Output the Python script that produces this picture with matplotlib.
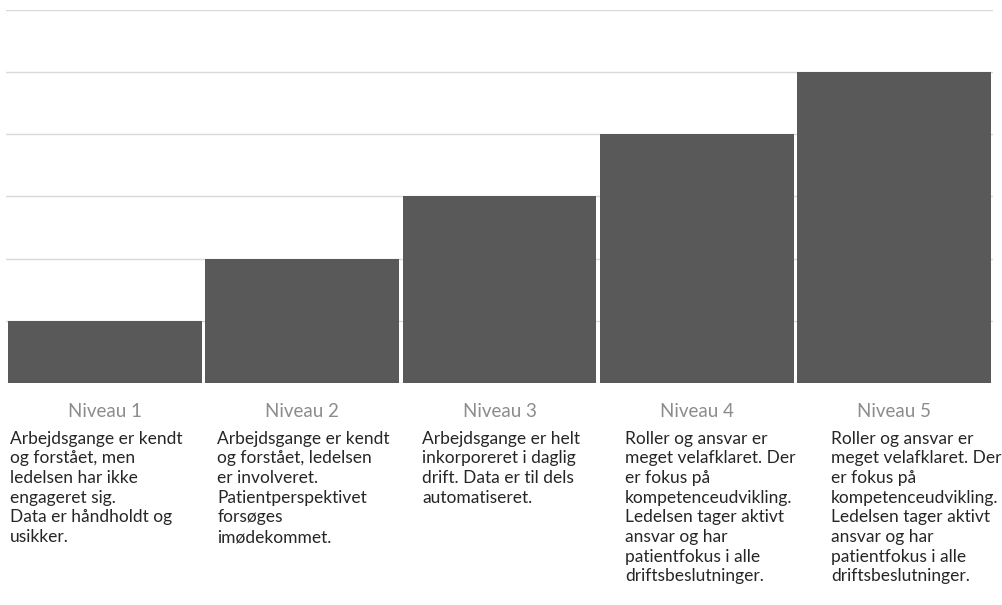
import matplotlib
matplotlib.use('Agg')
import matplotlib.pyplot as plt

levels = ['Niveau 1', 'Niveau 2', 'Niveau 3', 'Niveau 4', 'Niveau 5']
values = [1, 2, 3, 4, 5]
descriptions = [
    'Arbejdsgange er kendt\nog forstået, men\nledelsen har ikke\nengageret sig.\nData er håndholdt og\nusikker.',
    'Arbejdsgange er kendt\nog forstået, ledelsen\ner involveret.\nPatientperspektivet\nforsøges\nimødekommet.',
    'Arbejdsgange er helt\ninkorporeret i daglig\ndrift. Data er til dels\nautomatiseret.',
    'Roller og ansvar er\nmeget velafklaret. Der\ner fokus på\nkompetenceudvikling.\nLedelsen tager aktivt\nansvar og har\npatientfokus i alle\ndriftsbeslutninger.',
    'Roller og ansvar er\nmeget velafklaret. Der\ner fokus på\nkompetenceudvikling.\nLedelsen tager aktivt\nansvar og har\npatientfokus i alle\ndriftsbeslutninger.',
]
# left offset of each description block inside its category slot
text_offsets = [0.02, 0.07, 0.107, 0.136, 0.18]

plt.rcParams['font.family'] = ['Lato', 'DejaVu Sans']

fig = plt.figure(figsize=(10.02, 6.05), dpi=100)
ax = fig.add_axes([0.006, 0.367, 0.985, 0.6165])

x = list(range(len(levels)))
ax.bar(x, values, width=0.982, color='#595959', zorder=2)
ax.set_xlim(-0.5, len(levels) - 0.5)
ax.set_ylim(0, 6)
ax.set_yticks(range(0, 7))
ax.yaxis.grid(True, color='#d9d9d9', linewidth=1)
ax.tick_params(left=False, bottom=False, labelleft=False, labelbottom=False)
for s in ax.spines.values():
    s.set_visible(False)

for i, (lvl, desc) in enumerate(zip(levels, descriptions)):
    ax.text(i, -0.46, lvl, ha='center', va='center', fontsize=13.5,
            color='#8c8c8c', clip_on=False)
    ax.text(i - 0.5 + text_offsets[i], -0.77, desc, ha='left', va='top',
            fontsize=12.5, color='#262626', linespacing=1.28, clip_on=False)

fig.savefig('out.png', dpi=100)
